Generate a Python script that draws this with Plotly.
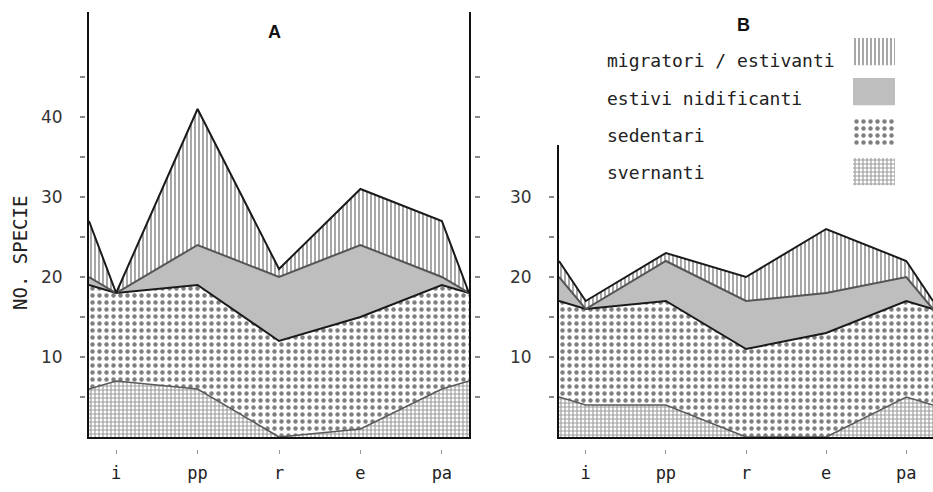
import plotly.graph_objects as go

# Seasons on the x axis (the cycle wraps: pa -> i)
seasons = ["i", "pp", "r", "e", "pa"]

# Panel A: number of species per group and season
a_svernanti = [7, 6, 0, 1, 6]
a_sedentari = [11, 13, 12, 14, 13]
a_estivi = [0, 5, 8, 9, 1]
a_migratori = [0, 17, 1, 7, 7]

# Panel B: number of species per group and season
b_svernanti = [4, 4, 0, 0, 5]
b_sedentari = [12, 13, 11, 13, 12]
b_estivi = [0, 5, 6, 5, 3]
b_migratori = [1, 1, 3, 8, 2]

a_ticks = [5, 10, 15, 20, 25, 30, 35, 40, 45]
a_tick_labels = ["", "10", "", "20", "", "30", "", "40", ""]
b_ticks = [5, 10, 15, 20, 25, 30]
b_tick_labels = ["", "10", "", "20", "", "30"]

# fraction of a season step shown before the first and after the last season
WRAP = 1 / 3

W, H = 933, 492
MONO = "DejaVu Sans Mono"
SANS = "DejaVu Sans"


def px_x(p):
    return p / W


def px_y(p):
    return (H - p) / H


styles = {
    "svernanti": dict(
        line=dict(color="#5a5a5a", width=1.6),
        fillpattern=dict(shape="+", size=4, solidity=0.5, fgcolor="#3a3a3a", bgcolor="white"),
    ),
    "sedentari": dict(
        line=dict(color="#1a1a1a", width=2),
        fillpattern=dict(shape=".", size=7, solidity=0.32, fgcolor="#000000", bgcolor="white"),
    ),
    "estivi nidificanti": dict(
        line=dict(color="#555555", width=2),
        fillcolor="#bebebe",
    ),
    "migratori / estivanti": dict(
        line=dict(color="#1a1a1a", width=2),
        fillpattern=dict(shape="|", size=4, solidity=0.42, fgcolor="#2e2e2e", bgcolor="white"),
    ),
}

order = ["svernanti", "sedentari", "estivi nidificanti", "migratori / estivanti"]

xs = [-WRAP] + list(range(len(seasons))) + [len(seasons) - 1 + WRAP]


def wrapped(vals):
    return [vals[-1]] + list(vals) + [vals[0]]


def fill_kw(st):
    if "fillpattern" in st:
        return dict(fillpattern=st["fillpattern"], fillcolor="white")
    return dict(fillcolor=st["fillcolor"])


fig = go.Figure()

panels = [
    ("A", "x", "y", [a_svernanti, a_sedentari, a_estivi, a_migratori]),
    ("B", "x2", "y2", [b_svernanti, b_sedentari, b_estivi, b_migratori]),
]
for name, xa, ya, groups in panels:
    for gname, vals in zip(order, groups):
        st = styles[gname]
        fig.add_trace(go.Scatter(
            x=xs, y=wrapped(vals), mode="lines", stackgroup=name,
            xaxis=xa, yaxis=ya, name=gname, showlegend=False,
            hoverinfo="skip", line=st["line"], **fill_kw(st)))

# empty traces so the detached tick axes get drawn
for xa, ya in [("x", "y3"), ("x", "y4"), ("x2", "y5"), ("x3", "y"), ("x4", "y2")]:
    fig.add_trace(go.Scatter(x=[None], y=[None], mode="lines", xaxis=xa, yaxis=ya,
                             showlegend=False, hoverinfo="skip"))

# legend keys, drawn on their own small axes
legend_rows = ["migratori / estivanti", "estivi nidificanti", "sedentari", "svernanti"]
for i, gname in enumerate(legend_rows):
    st = styles[gname]
    fig.add_trace(go.Scatter(
        x=[0, 1, 1, 0, 0], y=[i + 0.1, i + 0.1, i + 0.78, i + 0.78, i + 0.1],
        mode="lines", fill="toself", line=dict(width=0, color="rgba(0,0,0,0)"),
        xaxis="x5", yaxis="y6", showlegend=False, hoverinfo="skip", **fill_kw(st)))

xr = [-WRAP, len(seasons) - 1 + WRAP]
a_top = (437 - 12) / 8
b_top = (437 - 145) / 8

tick_style = dict(ticks="outside", ticklen=5, tickwidth=1.5, tickcolor="#888888")

fig.update_layout(
    width=W, height=H, autosize=False,
    margin=dict(l=0, r=0, t=0, b=0),
    paper_bgcolor="white", plot_bgcolor="white",
    showlegend=False,
    # panel A
    xaxis=dict(domain=[px_x(89), px_x(469)], range=xr, showgrid=False, zeroline=False,
               showticklabels=False, ticks="", showline=True, linecolor="#111111",
               linewidth=2, anchor="y"),
    yaxis=dict(domain=[px_y(437), px_y(12)], range=[0, a_top], showgrid=False, zeroline=False,
               showticklabels=False, ticks="", showline=True, mirror=True,
               linecolor="#111111", linewidth=1.8, anchor="x"),
    # panel B
    xaxis2=dict(domain=[px_x(559), 1.0], range=xr, showgrid=False, zeroline=False,
                showticklabels=False, ticks="", showline=True, linecolor="#111111",
                linewidth=2, anchor="y2"),
    yaxis2=dict(domain=[px_y(437), px_y(145)], range=[0, b_top], showgrid=False, zeroline=False,
                showticklabels=False, ticks="", showline=True, linecolor="#111111",
                linewidth=1.8, anchor="x2"),
    # detached tick marks and labels
    yaxis3=dict(overlaying="y", anchor="free", position=px_x(85), side="left",
                range=[0, a_top], tickvals=a_ticks, ticktext=a_tick_labels,
                showline=False, showgrid=False, zeroline=False,
                tickfont=dict(family=SANS, size=17, color="#333333"),
                ticklabelstandoff=14, **tick_style),
    yaxis4=dict(overlaying="y", anchor="free", position=px_x(474), side="right",
                range=[0, a_top], tickvals=a_ticks, showticklabels=False,
                showline=False, showgrid=False, zeroline=False, **tick_style),
    yaxis5=dict(overlaying="y2", anchor="free", position=px_x(554), side="left",
                range=[0, b_top], tickvals=b_ticks, ticktext=b_tick_labels,
                showline=False, showgrid=False, zeroline=False,
                tickfont=dict(family=SANS, size=17, color="#333333"),
                ticklabelstandoff=14, **tick_style),
    xaxis3=dict(overlaying="x", anchor="free", position=px_y(449), side="bottom",
                range=xr, tickvals=list(range(len(seasons))), ticktext=seasons,
                showline=False, showgrid=False, zeroline=False,
                tickfont=dict(family=MONO, size=17, color="#222222"),
                ticks="outside", ticklen=4, tickwidth=1, tickcolor="#999999",
                ticklabelstandoff=5),
    xaxis4=dict(overlaying="x2", anchor="free", position=px_y(449), side="bottom",
                range=xr, tickvals=list(range(len(seasons))), ticktext=seasons,
                showline=False, showgrid=False, zeroline=False,
                tickfont=dict(family=MONO, size=17, color="#222222"),
                ticks="outside", ticklen=4, tickwidth=1, tickcolor="#999999",
                ticklabelstandoff=5),
    # legend key axes
    xaxis5=dict(domain=[px_x(853), px_x(895)], range=[0, 1], visible=False, anchor="y6"),
    yaxis6=dict(domain=[px_y(194), px_y(34)], range=[4, 0], visible=False, anchor="x5"),
)

annotations = [
    dict(text="<b>A</b>", x=px_x(274), y=px_y(32)),
    dict(text="<b>B</b>", x=px_x(743), y=px_y(25)),
]
for a in annotations:
    a.update(xref="paper", yref="paper", showarrow=False, xanchor="center", yanchor="middle",
             font=dict(family="Liberation Sans", size=18, color="#111111"))
    fig.add_annotation(**a)

legend_text_y = [60, 99, 135, 172]
for label, ypx in zip(legend_rows, legend_text_y):
    fig.add_annotation(text=label, x=px_x(605), y=px_y(ypx), xref="paper", yref="paper",
                       showarrow=False, xanchor="left", yanchor="middle",
                       font=dict(family=MONO, size=18, color="#222222"))

fig.add_annotation(text="NO. SPECIE", x=px_x(20), y=px_y(253), xref="paper", yref="paper",
                   showarrow=False, textangle=-90, xanchor="center", yanchor="middle",
                   font=dict(family=MONO, size=19, color="#222222"))

fig.write_html("out.html")
